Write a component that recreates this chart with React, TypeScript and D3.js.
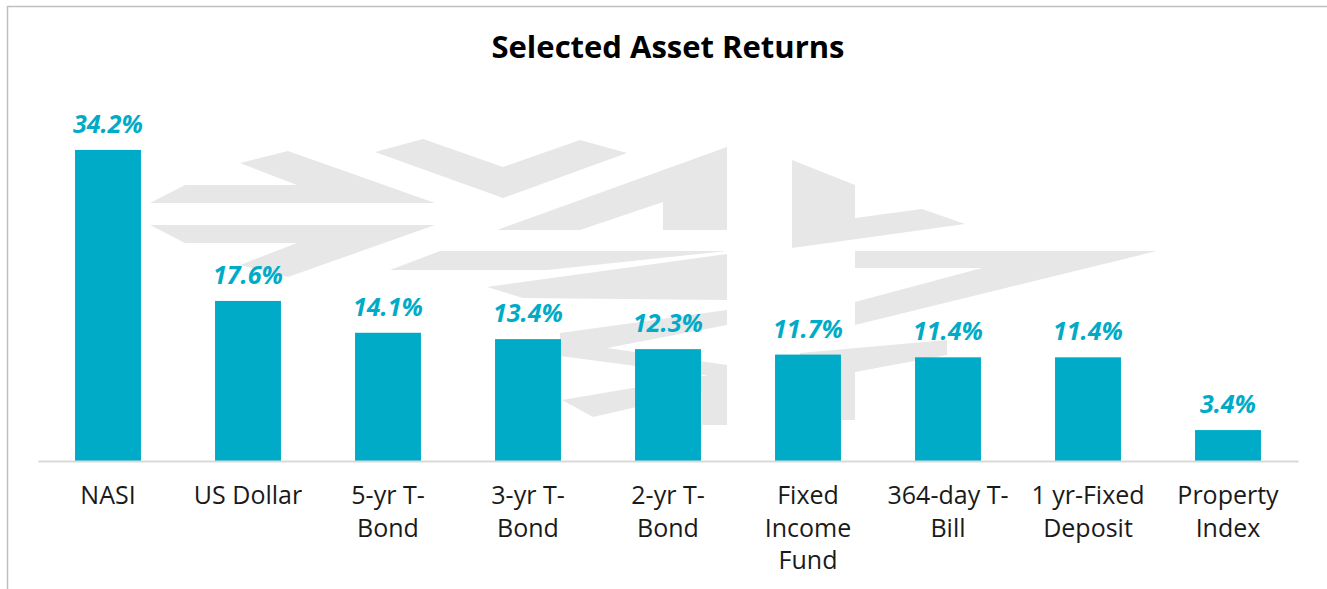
import React, { useRef, useEffect } from "react";
import * as d3 from "d3";

// chart data
const categories = [
  "NASI",
  "US Dollar",
  "5-yr T-Bond",
  "3-yr T-Bond",
  "2-yr T-Bond",
  "Fixed Income Fund",
  "364-day T-Bill",
  "1 yr-Fixed Deposit",
  "Property Index",
];
const tickLines = [
  ["NASI"],
  ["US Dollar"],
  ["5-yr T-", "Bond"],
  ["3-yr T-", "Bond"],
  ["2-yr T-", "Bond"],
  ["Fixed", "Income", "Fund"],
  ["364-day T-", "Bill"],
  ["1 yr-Fixed", "Deposit"],
  ["Property", "Index"],
];
const returns = [34.2, 17.6, 14.1, 13.4, 12.3, 11.7, 11.4, 11.4, 3.4];

// faint logo watermark behind the bars (decoration only)
const watermark = [
  [[150, 203], [185, 185], [297, 185], [240, 163], [288, 151], [435, 203]],
  [[150, 225], [435, 225], [288, 277], [240, 265], [297, 243], [185, 243]],
  [[375, 152], [423, 139], [503, 167], [580, 140], [627, 153], [503, 198]],
  [[497, 230], [727, 147], [727, 230], [663, 230], [663, 202], [580, 230]],
  [[792, 160], [855, 185], [855, 218], [922, 209], [965, 224], [792, 248]],
  [[390, 270], [440, 251], [727, 251], [547, 270]],
  [[855, 251], [1157, 251], [855, 325], [855, 302], [982, 268], [855, 268]],
  [[487, 287], [727, 254], [727, 300], [523, 298]],
  [[560, 333], [727, 310], [727, 325], [607, 348], [727, 365], [727, 378], [560, 356]],
  [[562, 400], [727, 372], [727, 425], [702, 425], [702, 392], [593, 417]],
  [[800, 353], [947, 340], [947, 355], [855, 372], [855, 420], [800, 420]],
];

const W = 1327;
const H = 589;
const BAR = "#00abc8";
const FONT = "'Open Sans', 'DejaVu Sans', sans-serif";

const App = () => {
  const svgRef = useRef(null);

  useEffect(() => {
    const svg = d3.select(svgRef.current);
    svg.selectAll("*").remove();

    const x = d3
      .scaleBand()
      .domain(categories)
      .range([38, 1298])
      .paddingInner(0.529)
      .paddingOuter(0.2645);
    const y = d3.scaleLinear().domain([0, 40]).range([461, 97.2]);

    // frame
    svg
      .append("path")
      .attr("d", `M7.5,${H} V6.5 H${W}`)
      .attr("fill", "none")
      .attr("stroke", "#bfbfbf")
      .attr("stroke-width", 1.5);

    // watermark
    svg
      .append("g")
      .selectAll("polygon")
      .data(watermark)
      .enter()
      .append("polygon")
      .attr("points", (d) => d.map((p) => p.join(",")).join(" "))
      .attr("fill", "#e7e7e7");

    // title
    svg
      .append("text")
      .attr("x", 668)
      .attr("y", 58)
      .attr("text-anchor", "middle")
      .attr("font-family", FONT)
      .attr("font-weight", 700)
      .attr("font-size", 31)
      .attr("fill", "#000")
      .text("Selected Asset Returns");

    const data = categories.map((c, i) => ({ label: c, value: returns[i], lines: tickLines[i] }));

    // bars
    svg
      .append("g")
      .selectAll("rect")
      .data(data)
      .enter()
      .append("rect")
      .attr("x", (d) => x(d.label))
      .attr("y", (d) => y(d.value))
      .attr("width", x.bandwidth())
      .attr("height", (d) => y(0) - y(d.value))
      .attr("fill", BAR);

    // value labels
    svg
      .append("g")
      .selectAll("text")
      .data(data)
      .enter()
      .append("text")
      .attr("x", (d) => x(d.label) + x.bandwidth() / 2)
      .attr("y", (d) => y(d.value) - 17)
      .attr("text-anchor", "middle")
      .attr("font-family", FONT)
      .attr("font-weight", 700)
      .attr("font-style", "italic")
      .attr("font-size", 25)
      .attr("fill", BAR)
      .text((d) => d.value.toFixed(1) + "%");

    // x axis
    const axis = svg
      .append("g")
      .attr("transform", `translate(0,${y(0)})`)
      .call(d3.axisBottom(x).tickSize(0).tickSizeOuter(0));
    axis.select(".domain").attr("stroke", "#d9d9d9").attr("stroke-width", 2);
    axis
      .selectAll(".tick text")
      .attr("font-family", FONT)
      .attr("font-size", 25)
      .attr("fill", "#1a1a1a")
      .attr("dy", null)
      .attr("y", 0)
      .each(function (d) {
        const t = d3.select(this);
        const lines = tickLines[categories.indexOf(d)];
        t.text(null);
        lines.forEach((ln, i) => {
          t.append("tspan").attr("x", 0).attr("y", 43 + i * 32.5).text(ln);
        });
      });
  }, []);

  return (
    <svg
      ref={svgRef}
      width={W}
      height={H}
      style={{ position: "absolute", left: 0, top: 0, background: "#fff" }}
    ></svg>
  );
};

export default App;
